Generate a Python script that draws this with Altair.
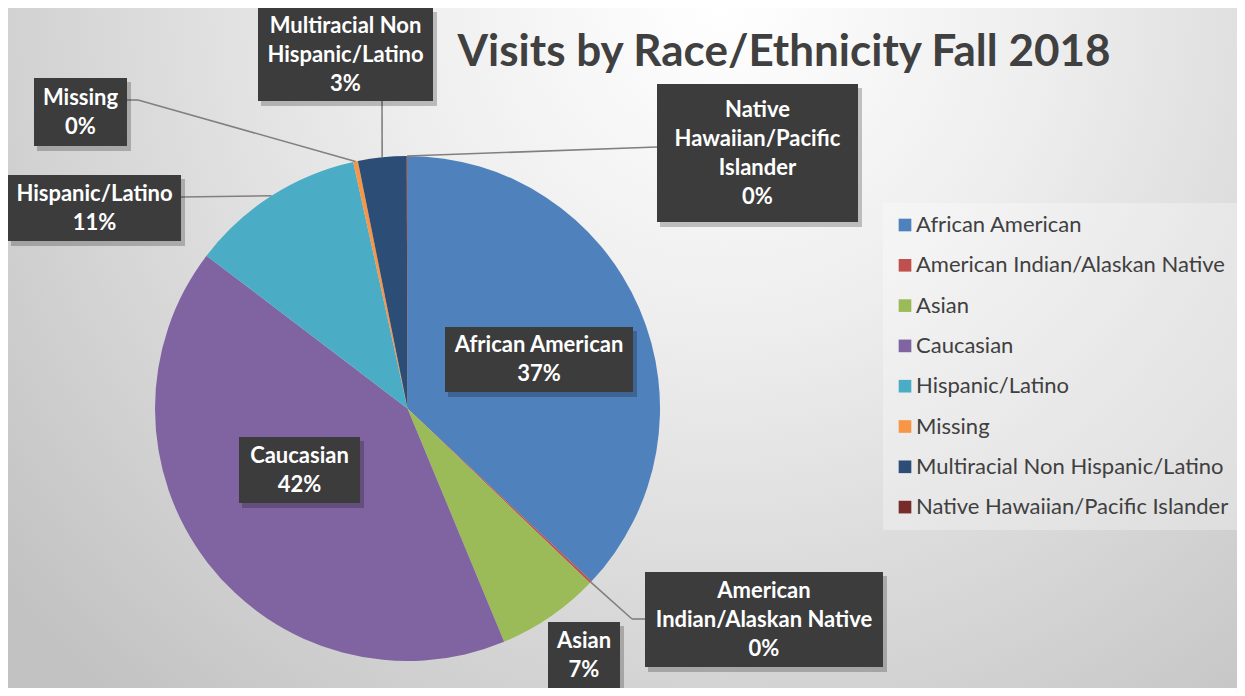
import math
import altair as alt
import pandas as pd

# ---------------- data ----------------
categories = [
    "African American",
    "American Indian/Alaskan Native",
    "Asian",
    "Caucasian",
    "Hispanic/Latino",
    "Missing",
    "Multiracial Non Hispanic/Latino",
    "Native Hawaiian/Pacific Islander",
]
values = [37.0, 0.15, 6.6, 41.6, 11.2, 0.3, 3.1, 0.05]
colors = ["#4F81BD", "#C0504D", "#9BBB59", "#8064A2", "#4BACC6", "#F79646", "#2C4D75", "#772C2A"]
label_names = [
    ["African American"],
    ["American", "Indian/Alaskan Native"],
    ["Asian"],
    ["Caucasian"],
    ["Hispanic/Latino"],
    ["Missing"],
    ["Multiracial Non", "Hispanic/Latino"],
    ["Native", "Hawaiian/Pacific", "Islander"],
]
title_text = "Visits by Race/Ethnicity Fall 2018"

# ---------------- layout (pixels) ----------------
W, H = 1229, 680
OFF = 8
CX, CY, R = 407.5 - OFF, 408.5 - OFF, 252.5
LINE_H = 29
FONT = "Lato"

# label boxes in reference-image coordinates: x0, y0, x1, y1
boxes = [
    (445, 327, 633, 392),
    (645, 572, 883, 667),
    (548, 622, 620, 688),
    (239, 437, 360, 503),
    (7, 175, 181, 241),
    (34, 78, 127, 146),
    (258, 7, 433, 101),
    (657, 84, 858, 222),
]
# leader paths from slice edge to box (reference coords); None = no leader
leader_paths = [
    None,
    [(632, 619), (645, 619)],
    None,
    None,
    [(181, 197)],
    [(138, 100), (127, 100)],
    [(382, 101)],
    [(657, 147)],
]

total = sum(values)
cum = 0.0
mids = []
for v in values:
    mids.append((cum + v / 2) / total)
    cum += v

pie_df = pd.DataFrame({"category": categories, "value": values, "idx": list(range(len(values)))})

box_rows, text_rows, seg_rows = [], [], []
for i, cat in enumerate(categories):
    x0, y0, x1, y1 = boxes[i]
    x0 = max(x0 - OFF, 0)
    y0 = max(y0 - OFF, 0)
    x1 -= OFF
    y1 -= OFF
    box_rows.append({"x0": x0, "y0": y0, "x1": x1, "y1": y1,
                     "sx0": x0 + 3, "sy0": y0 + 4, "sx1": x1 + 4, "sy1": y1 + 5})
    lines = label_names[i] + [f"{round(values[i] / total * 100):.0f}%"]
    n = len(lines)
    top = (y0 + y1) / 2 - n * LINE_H / 2
    for j, t in enumerate(lines):
        text_rows.append({"tx": (x0 + x1) / 2, "ty": top + LINE_H * (j + 0.5), "t": t})
    if leader_paths[i] is not None:
        ang = 2 * math.pi * mids[i]
        px, py = CX + R * math.sin(ang), CY - R * math.cos(ang)
        for (qx, qy) in leader_paths[i]:
            qx -= OFF
            qy -= OFF
            seg_rows.append({"ax": px, "ay": py, "bx": qx, "by": qy})
            px, py = qx, qy

box_df = pd.DataFrame(box_rows)
text_df = pd.DataFrame(text_rows)
seg_df = pd.DataFrame(seg_rows)

# ---------------- layers ----------------
grad = alt.RadialGradient(
    gradient="radial",
    x1=0.58, y1=0.22, r1=0.0,
    x2=0.58, y2=0.22, r2=0.75,
    stops=[
        alt.GradientStop(color="#ffffff", offset=0.0),
        alt.GradientStop(color="#eeeeee", offset=0.35),
        alt.GradientStop(color="#c2c2c2", offset=1.0),
    ],
)
bg = alt.Chart(pd.DataFrame({"a": [0]})).mark_rect(fill=grad).encode(
    x=alt.value(0), x2=alt.value(W), y=alt.value(0), y2=alt.value(H)
)

title = alt.Chart(pd.DataFrame({"t": [title_text]})).mark_text(
    font=FONT, fontSize=44, fontWeight="bold", color="#404040",
    align="center", baseline="alphabetic",
).encode(x=alt.value(784 - OFF), y=alt.value(66 - OFF), text="t:N")

pie = alt.Chart(pie_df).mark_arc(outerRadius=R).encode(
    theta=alt.Theta("value:Q", stack=True),
    color=alt.Color(
        "category:N",
        scale=alt.Scale(domain=categories, range=colors),
        sort=categories,
        legend=alt.Legend(
            title=None, orient="none", legendX=875, legendY=195, direction="vertical",
            symbolType="square", symbolSize=160, symbolStrokeWidth=0,
            labelFont=FONT, labelFontSize=22, labelColor="#404040", labelLimit=500,
            labelOffset=0, rowPadding=18.3, padding=11,
            fillColor="rgba(255,255,255,0.3)",
        ),
    ),
    order=alt.Order("idx:Q"),
    x=alt.value(CX),
    y=alt.value(CY),
)

leaders = alt.Chart(seg_df).mark_rule(color="#808080", strokeWidth=1.6).encode(
    x=alt.X("ax:Q", scale=None), y=alt.Y("ay:Q", scale=None),
    x2="bx:Q", y2="by:Q",
)

shadows = alt.Chart(box_df).mark_rect(color="#000000", opacity=0.22).encode(
    x=alt.X("sx0:Q", scale=None), x2="sx1:Q",
    y=alt.Y("sy0:Q", scale=None), y2="sy1:Q",
)

label_boxes = alt.Chart(box_df).mark_rect(color="#3c3c3c").encode(
    x=alt.X("x0:Q", scale=None), x2="x1:Q",
    y=alt.Y("y0:Q", scale=None), y2="y1:Q",
)

label_text = alt.Chart(text_df).mark_text(
    font=FONT, fontSize=22, fontWeight="bold", color="#ffffff",
    align="center", baseline="middle",
).encode(
    x=alt.X("tx:Q", scale=None), y=alt.Y("ty:Q", scale=None), text="t:N"
)

chart = alt.layer(bg, title, pie, leaders, shadows, label_boxes, label_text).properties(
    width=W, height=H, padding=0, autosize=alt.AutoSizeParams(type="none"),
).configure_view(stroke=None)

chart.save("out.html", embed_options={"renderer": "svg", "actions": False})
